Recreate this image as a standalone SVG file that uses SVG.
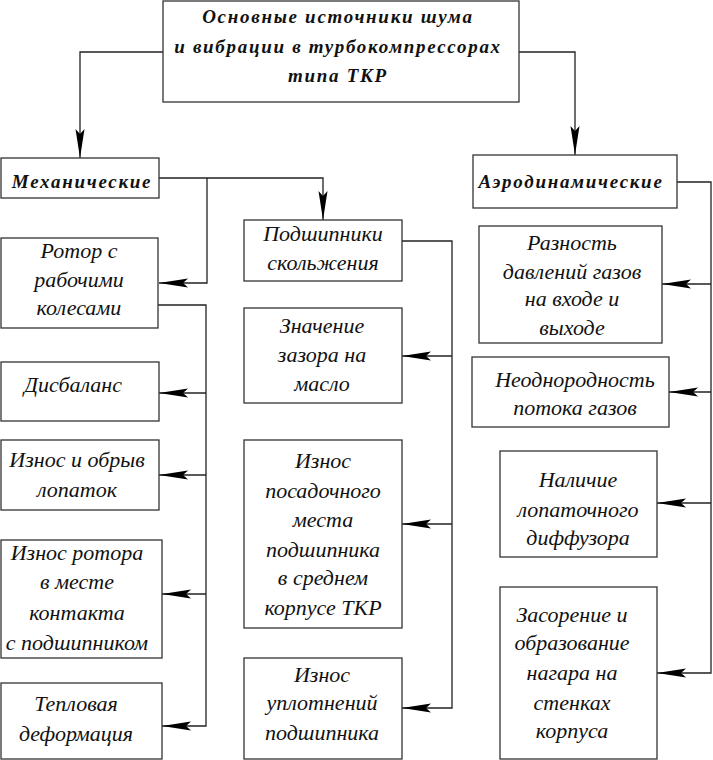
<svg xmlns="http://www.w3.org/2000/svg" width="713" height="760" viewBox="0 0 713 760">
<defs>
<marker id="arr" markerUnits="userSpaceOnUse" viewBox="-30 -6 31 12" refX="0" refY="0" markerWidth="31" markerHeight="12" orient="auto">
<path d="M0,0 L-29,-4.5 L-24,0 L-29,4.5 Z" fill="#000"/>
</marker>
<style>
.box{fill:#fff;stroke:#333;stroke-width:1.3}
.t{font-family:"Liberation Serif","Times New Roman",serif;font-style:italic;font-size:22px;fill:#111;text-anchor:middle}
.h{font-family:"Liberation Serif","Times New Roman",serif;font-style:italic;font-weight:bold;font-size:19px;letter-spacing:1.7px;fill:#111;text-anchor:middle}
.c{fill:none;stroke:#222;stroke-width:1.3}
</style>
</defs>
<rect width="713" height="760" fill="#fff"/>
<g id="connectors">
<path class="c" d="M163,52 H80 V158" marker-end="url(#arr)"/>
<path class="c" d="M519,52 H575 V155" marker-end="url(#arr)"/>
<path class="c" d="M159,178 H323 V220" marker-end="url(#arr)"/>
<path class="c" d="M207,178 V283 H159" marker-end="url(#arr)"/>
<path class="c" d="M158,305 H206 V726 H162" marker-end="url(#arr)"/>
<path class="c" d="M206,393 H159" marker-end="url(#arr)"/>
<path class="c" d="M206,475 H159" marker-end="url(#arr)"/>
<path class="c" d="M206,594 H162" marker-end="url(#arr)"/>
<path class="c" d="M402,241 H452 V708 H402" marker-end="url(#arr)"/>
<path class="c" d="M452,356 H402" marker-end="url(#arr)"/>
<path class="c" d="M452,524 H402" marker-end="url(#arr)"/>
<path class="c" d="M677,182 H711 V673 H657" marker-end="url(#arr)"/>
<path class="c" d="M711,284 H662" marker-end="url(#arr)"/>
<path class="c" d="M711,392 H669" marker-end="url(#arr)"/>
<path class="c" d="M711,503 H657" marker-end="url(#arr)"/>
</g>
<g id="title">
<rect class="box" x="163" y="1" width="356" height="101"/>
<text class="h" x="338" y="23">Основные источники шума</text>
<text class="h" x="338" y="53">и вибрации в турбокомпрессорах</text>
<text class="h" x="338" y="82">типа ТКР</text>
</g>
<g id="mech">
<rect class="box" x="1" y="158" width="158" height="40"/>
<text class="h" x="82" y="188">Механические</text>
</g>
<g id="aero">
<rect class="box" x="473" y="155" width="204" height="53"/>
<text class="h" x="571" y="188">Аэродинамические</text>
</g>
<g id="rotor">
<rect class="box" x="1" y="238" width="157" height="90"/>
<text class="t" x="79" y="258">Ротор с</text>
<text class="t" x="79" y="287">рабочими</text>
<text class="t" x="79" y="315">колесами</text>
</g>
<g id="disbalance">
<rect class="box" x="1" y="362" width="158" height="59"/>
<text class="t" x="73" y="392">Дисбаланс</text>
</g>
<g id="iznos-lopatok">
<rect class="box" x="1" y="440" width="158" height="70"/>
<text class="t" x="77" y="467">Износ и обрыв</text>
<text class="t" x="77" y="497">лопаток</text>
</g>
<g id="iznos-rotora">
<rect class="box" x="1" y="540" width="161" height="118"/>
<text class="t" x="77" y="560">Износ ротора</text>
<text class="t" x="77" y="589">в месте</text>
<text class="t" x="77" y="620">контакта</text>
<text class="t" x="77" y="650">с подшипником</text>
</g>
<g id="teplovaya">
<rect class="box" x="1" y="683" width="161" height="76"/>
<text class="t" x="76" y="711">Тепловая</text>
<text class="t" x="76" y="741">деформация</text>
</g>
<g id="podshipniki">
<rect class="box" x="244" y="220" width="158" height="61"/>
<text class="t" x="323" y="241">Подшипники</text>
<text class="t" x="323" y="270">скольжения</text>
</g>
<g id="zazor">
<rect class="box" x="244" y="308" width="158" height="95"/>
<text class="t" x="322" y="333">Значение</text>
<text class="t" x="322" y="362">зазора на</text>
<text class="t" x="322" y="391">масло</text>
</g>
<g id="posadochnoe">
<rect class="box" x="244" y="440" width="158" height="188"/>
<text class="t" x="323" y="468">Износ</text>
<text class="t" x="323" y="498">посадочного</text>
<text class="t" x="323" y="527">места</text>
<text class="t" x="323" y="557">подшипника</text>
<text class="t" x="323" y="585">в среднем</text>
<text class="t" x="323" y="615">корпусе ТКР</text>
</g>
<g id="uplotneniya">
<rect class="box" x="244" y="658" width="158" height="101"/>
<text class="t" x="322" y="682">Износ</text>
<text class="t" x="322" y="710">уплотнений</text>
<text class="t" x="322" y="740">подшипника</text>
</g>
<g id="raznost">
<rect class="box" x="479" y="226" width="183" height="117"/>
<text class="t" x="572" y="250">Разность</text>
<text class="t" x="572" y="279">давлений газов</text>
<text class="t" x="572" y="306">на входе и</text>
<text class="t" x="572" y="335">выходе</text>
</g>
<g id="neodnorodnost">
<rect class="box" x="472" y="357" width="197" height="70"/>
<text class="t" x="575" y="387">Неоднородность</text>
<text class="t" x="575" y="415">потока газов</text>
</g>
<g id="diffuzor">
<rect class="box" x="500" y="451" width="157" height="106"/>
<text class="t" x="578" y="487">Наличие</text>
<text class="t" x="578" y="517">лопаточного</text>
<text class="t" x="578" y="545">диффузора</text>
</g>
<g id="zasorenie">
<rect class="box" x="500" y="587" width="157" height="172"/>
<text class="t" x="572" y="622">Засорение и</text>
<text class="t" x="572" y="650">образование</text>
<text class="t" x="572" y="680">нагара на</text>
<text class="t" x="572" y="710">стенках</text>
<text class="t" x="572" y="738">корпуса</text>
</g>
</svg>
